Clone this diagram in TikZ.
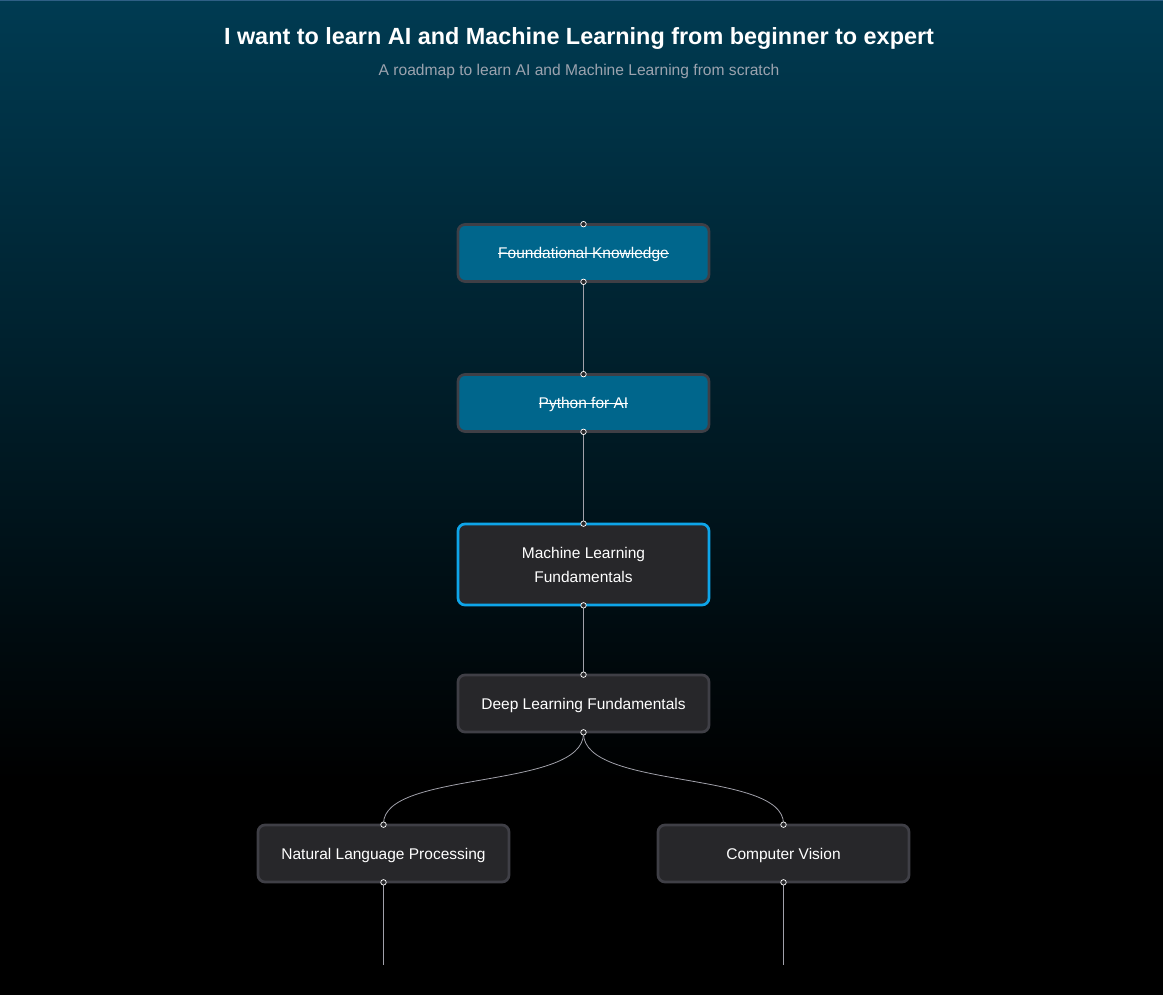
\documentclass[tikz,border=0pt]{standalone}
\usepackage{fontspec}
\setmainfont{Liberation Sans}
\newcommand\myStrike[1]{\setbox0=\hbox{#1}\rlap{\copy0}\rule[0.3em]{\wd0}{0.7pt}}
\definecolor{bgtop}{HTML}{003B52}
\definecolor{topline}{HTML}{2E5F85}
\definecolor{donefill}{HTML}{00668C}
\definecolor{nodefill}{HTML}{27272A}
\definecolor{nodeborder}{HTML}{3F3F46}
\definecolor{activeborder}{HTML}{0EA5E9}
\definecolor{edgecol}{HTML}{A1A1AA}
\definecolor{subcol}{HTML}{9CA3AF}
\tikzset{
  roadnode/.style={draw=nodeborder, line width=2.7pt, rounded corners=7pt,
    minimum width=251pt, minimum height=57pt, text=white, align=center,
    font=\fontsize{15.5}{24}\selectfont, inner sep=0pt},
  donenode/.style={roadnode, fill=donefill, text depth=0pt},
  todonode/.style={roadnode, fill=nodefill, text depth=0pt},
  activenode/.style={roadnode, fill=nodefill, draw=activeborder, minimum height=81pt},
  edge/.style={draw=edgecol, line width=0.8pt},
  handle/.style={circle, draw=white, fill=nodefill, line width=0.7pt, minimum size=5.5pt, inner sep=0pt}
}
\begin{document}
\begin{tikzpicture}[x=1pt,y=-1pt]
\useasboundingbox (0,0) rectangle (1163,995);
\fill[black] (0,0) rectangle (1163,995);
\shade[top color=bgtop, bottom color=black] (0,0) rectangle (1163,780);
\fill[topline] (0,0) rectangle (1163,1.2);

\node[text=white, font=\bfseries\fontsize{23.4}{28}\selectfont] (title) at (579,39) {I want to learn AI and Machine Learning from beginner to expert};
\node[text=subcol, font=\fontsize{15.6}{18}\selectfont] (subtitle) at (579,71) {A roadmap to learn AI and Machine Learning from scratch};

\node[donenode] (fk) at (583.5,253) {\myStrike{Foundational Knowledge}};
\node[donenode] (py) at (583.5,403) {\myStrike{Python for AI}};
\node[activenode] (ml) at (583.5,564.5) {Machine Learning\\Fundamentals};
\node[todonode] (dl) at (583.5,703.5) {Deep Learning Fundamentals};
\node[todonode] (nlp) at (383.5,853.5) {Natural Language Processing};
\node[todonode] (cv) at (783.5,853.5) {Computer Vision};

\coordinate (nlpend) at (383.5,965);
\coordinate (cvend) at (783.5,965);

\draw[edge] (fk.south) -- (py.north);
\draw[edge] (py.south) -- (ml.north);
\draw[edge] (ml.south) -- (dl.north);
\draw[edge] (dl.south) .. controls (583.5,790) and (383.5,770) .. (nlp.north);
\draw[edge] (dl.south) .. controls (583.5,790) and (783.5,770) .. (cv.north);
\draw[edge] (nlp.south) -- (nlpend);
\draw[edge] (cv.south) -- (cvend);

\foreach \n in {fk,py,ml,dl,nlp,cv}{
  \node[handle] (\n-top) at ([yshift=-1pt]\n.north) {};
  \node[handle] (\n-bot) at ([yshift=1pt]\n.south) {};
}
\end{tikzpicture}
\end{document}
